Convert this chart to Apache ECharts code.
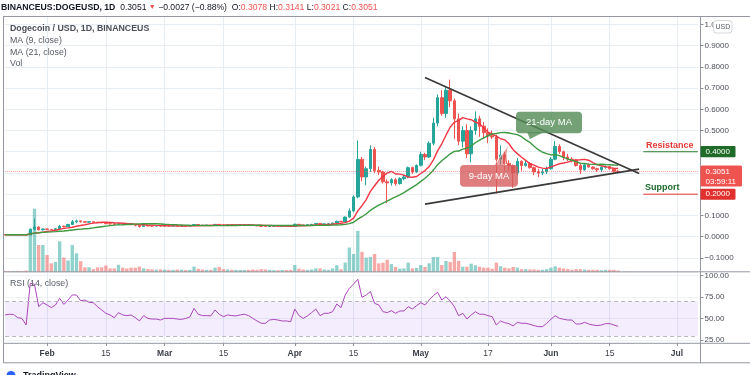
<!DOCTYPE html>
<html>
<head>
<meta charset="utf-8">
<script src="https://cdn.jsdelivr.net/npm/echarts/dist/echarts.min.js"></script>
<style>
html,body{margin:0;padding:0;background:#ffffff;overflow:hidden;}
#chart{width:750px;height:375px;}
</style>
</head>
<body>
<div id="chart"></div>
<script>
// ---------------- DATA ----------------
const firstDayUTC = Date.UTC(2021, 0, 22);   // first category (Jan 22, 2021)
const axisDayCount = 166;                      // axis runs to Jul 6, 2021
const tickDates  = ['2021-02-01','2021-02-15','2021-03-01','2021-03-15','2021-04-01','2021-04-15','2021-05-01','2021-05-17','2021-06-01','2021-06-15','2021-07-01'];
const tickLabels = ['Feb','15','Mar','15','Apr','15','May','17','Jun','15','Jul'];

const opens = [0.0087,0.0086,0.0085,0.0087,0.0086,0.0085,0.0075,0.035,0.045,0.032,
0.036,0.034,0.033,0.037,0.049,0.046,0.057,0.070,0.074,0.070,
0.068,0.070,0.068,0.066,0.065,0.061,0.060,0.058,0.061,0.059,
0.057,0.056,0.053,0.048,0.052,0.050,0.0495,0.051,0.050,0.051,
0.050,0.051,0.049,0.050,0.0495,0.051,0.057,0.054,0.053,0.0535,
0.0525,0.0575,0.055,0.054,0.055,0.054,0.0548,0.0552,0.0558,0.054,
0.052,0.0505,0.048,0.0475,0.0492,0.0495,0.049,0.0493,0.049,0.0485,
0.058,0.055,0.053,0.056,0.058,0.062,0.057,0.060,0.0602,0.064,
0.072,0.069,0.092,0.121,0.187,0.364,0.281,0.320,0.411,0.312,
0.304,0.258,0.253,0.268,0.250,0.273,0.281,0.325,0.304,0.336,
0.387,0.375,0.440,0.535,0.655,0.580,0.690,0.640,0.555,0.450,
0.500,0.390,0.500,0.555,0.520,0.490,0.475,0.470,0.365,0.385,
0.345,0.335,0.300,0.355,0.335,0.345,0.325,0.305,0.300,0.305,
0.320,0.365,0.425,0.400,0.375,0.365,0.360,0.335,0.315,0.338,
0.328,0.320,0.315,0.327,0.330,0.320,0.3078];

const highs = [0.0091,0.0088,0.0088,0.0091,0.0088,0.0087,0.038,0.085,0.048,0.038,
0.038,0.035,0.039,0.055,0.052,0.060,0.078,0.080,0.076,0.072,
0.072,0.071,0.069,0.068,0.066,0.063,0.061,0.063,0.062,0.061,
0.059,0.057,0.054,0.053,0.054,0.052,0.052,0.052,0.052,0.052,
0.052,0.052,0.051,0.051,0.052,0.058,0.058,0.055,0.0545,0.0545,
0.059,0.0585,0.056,0.056,0.056,0.056,0.056,0.0565,0.056,0.055,
0.053,0.0515,0.049,0.050,0.050,0.050,0.050,0.050,0.050,0.061,
0.059,0.056,0.057,0.059,0.064,0.063,0.061,0.061,0.066,0.075,
0.074,0.095,0.133,0.195,0.453,0.375,0.330,0.430,0.422,0.330,
0.310,0.270,0.275,0.275,0.280,0.290,0.330,0.330,0.340,0.400,
0.395,0.450,0.560,0.670,0.690,0.710,0.740,0.650,0.580,0.520,
0.530,0.520,0.590,0.570,0.540,0.510,0.500,0.480,0.430,0.400,
0.360,0.340,0.370,0.360,0.360,0.350,0.330,0.320,0.320,0.330,
0.375,0.450,0.435,0.405,0.390,0.375,0.365,0.345,0.345,0.345,
0.332,0.325,0.330,0.335,0.332,0.323,0.3141];

const lows = [0.0083,0.0084,0.0084,0.0085,0.0082,0.0072,0.0074,0.029,0.029,0.028,
0.032,0.031,0.032,0.036,0.044,0.045,0.055,0.063,0.066,0.064,
0.066,0.066,0.064,0.063,0.058,0.057,0.055,0.057,0.057,0.055,
0.054,0.048,0.042,0.047,0.049,0.048,0.049,0.047,0.049,0.049,
0.049,0.048,0.048,0.049,0.049,0.050,0.053,0.052,0.052,0.0515,
0.052,0.054,0.053,0.053,0.053,0.053,0.054,0.054,0.053,0.051,
0.050,0.047,0.046,0.047,0.048,0.048,0.048,0.048,0.048,0.048,
0.054,0.052,0.052,0.055,0.057,0.055,0.056,0.058,0.059,0.063,
0.067,0.067,0.090,0.115,0.180,0.260,0.242,0.305,0.300,0.290,
0.250,0.158,0.240,0.240,0.245,0.265,0.275,0.295,0.300,0.330,
0.360,0.370,0.430,0.520,0.570,0.560,0.610,0.460,0.430,0.420,
0.370,0.350,0.480,0.470,0.460,0.440,0.460,0.203,0.340,0.310,
0.310,0.230,0.290,0.310,0.330,0.320,0.290,0.280,0.290,0.295,
0.315,0.360,0.390,0.360,0.355,0.350,0.330,0.295,0.310,0.325,
0.315,0.305,0.305,0.320,0.315,0.300,0.3021];

const closes = [0.0086,0.0085,0.0087,0.0086,0.0085,0.0075,0.035,0.045,0.032,0.036,
0.034,0.033,0.037,0.049,0.046,0.057,0.070,0.074,0.070,0.068,
0.070,0.068,0.066,0.065,0.061,0.060,0.058,0.061,0.059,0.057,
0.056,0.053,0.048,0.052,0.050,0.0495,0.051,0.050,0.051,0.050,
0.051,0.049,0.050,0.0495,0.051,0.057,0.054,0.053,0.0535,0.0525,
0.0575,0.055,0.054,0.055,0.054,0.0548,0.0552,0.0558,0.054,0.052,
0.0505,0.048,0.0475,0.0492,0.0495,0.049,0.0493,0.049,0.0485,0.058,
0.055,0.053,0.056,0.058,0.062,0.057,0.060,0.0602,0.064,0.072,
0.069,0.092,0.121,0.187,0.364,0.281,0.320,0.411,0.312,0.304,
0.258,0.253,0.268,0.250,0.273,0.281,0.325,0.304,0.336,0.387,
0.375,0.440,0.535,0.655,0.580,0.690,0.640,0.555,0.450,0.500,
0.390,0.500,0.555,0.520,0.490,0.475,0.470,0.365,0.385,0.345,
0.335,0.300,0.355,0.335,0.345,0.325,0.305,0.300,0.305,0.320,
0.365,0.425,0.400,0.375,0.365,0.360,0.335,0.315,0.338,0.328,
0.320,0.315,0.327,0.330,0.320,0.3078,0.3051];

const volumes = [1.5,1.2,1.2,1.5,1.3,2.0,59,88,37.5,37.5,
23.6,12,14,42.6,20,16,37.5,26,15,6.5,
6.5,4,6.5,6.5,9,5,5,10,6,5,
6,6,7.4,5,4,3.7,3.2,3.7,3.2,3,
3,3.5,3.2,2.8,3,7.4,4.5,3.5,3,3,
6,7,4,3.5,3,3,2.8,2.8,3,3.5,
3,4,3.5,3,2.5,2.5,2.8,2.8,3,9.7,
4.6,3.5,3,3.5,5,5,3.5,3,5,9.3,
3.7,13,34,25,57,28,20,21,25,12,
13,17,11,7,4.6,5,13,5,5.5,9.7,
7,12,20.8,20.8,9.7,15.3,13.9,27.8,15.3,7.4,
7.4,11.6,9.3,7.4,6,6,4.5,13,8,6,
5,7,6,4,4,3.5,3.5,3,3,4,
6,8,6,5,4,3,4,4,3.5,3,
3,3,2.5,3,3,3,2];

const rsi14 = [54.4,55.2,55.0,51.2,50.4,42.7,91.2,90.0,64.0,68.6,
66.0,62.9,66.0,73.7,66.7,71.8,77.6,77.6,71.0,71.8,
69.1,68.6,64.0,60.2,56.3,54.4,51.2,57.1,54.4,53.6,
54.4,51.2,47.4,53.6,50.4,49.6,49.6,48.5,50.4,50.4,
50.4,49.6,49.2,50.4,52.0,62.1,55.2,53.6,53.6,53.3,
60.2,55.2,52.4,54.4,53.6,53.3,54.4,55.2,53.6,50.4,
47.4,44.7,44.7,48.5,49.2,48.5,47.4,47.4,46.6,61.3,
53.6,50.4,53.3,57.1,61.3,53.6,56.3,56.3,58.2,67.1,
62.9,77.6,85.3,90.3,95.8,74.9,77.6,81.5,67.9,66.0,
58.2,57.1,59.4,56.3,59.0,59.0,64.0,61.3,65.2,68.6,
66.0,71.8,76.8,80.7,71.8,75.6,70.6,64.0,53.5,56.3,
49.7,54.4,58.2,55.2,55.2,53.6,52.4,42.7,47.4,45.4,
44.3,41.6,45.8,44.7,44.7,43.5,42.0,40.8,40.8,44.7,
49.4,53.5,50.5,49.4,48.5,48.5,43.9,43.9,45.8,43.9,
42.7,42.0,42.7,44.3,44.3,42.7,41.2];

const trendUpper = [['2021-05-02', 0.750], ['2021-06-22', 0.297]];
const trendLower = [['2021-05-02', 0.153], ['2021-06-22', 0.318]];
const resistanceLevel = 0.4;
const supportLevel = 0.2;
const levelSpan = ['2021-06-23', '2021-07-06'];
const lastPrice = 0.3051;

// ---------------- BUILD ----------------
const dates = [];
for (let i = 0; i < axisDayCount; i++) {
  dates.push(new Date(firstDayUTC + i * 86400000).toISOString().slice(0, 10));
}
const candleData = opens.map((o, i) => [o, closes[i], lows[i], highs[i]]);
function movingAverage(src, n) {
  return src.map((_, i) => {
    const s = Math.max(0, i - n + 1);
    let t = 0;
    for (let k = s; k <= i; k++) t += src[k];
    return +(t / (i - s + 1)).toFixed(5);
  });
}
const ma9 = movingAverage(closes, 9);
const ma21 = movingAverage(closes, 21);
const UP = '#26a69a', DOWN = '#ef5350';
const volData = volumes.map((v, i) => ({
  value: v,
  itemStyle: { color: closes[i] >= opens[i] ? 'rgba(38,166,154,0.5)' : 'rgba(239,83,80,0.5)' }
}));

const FONT = '"Liberation Sans", Arial, sans-serif';
const GL = 5.1, GW = 692.8;
const isTick = (idx, val) => tickDates.indexOf(val) >= 0;
function xAx(gi, showLabels, showSplit) {
  return {
    type: 'category', gridIndex: gi, data: dates, boundaryGap: false,
    axisLine: { show: false },
    axisTick: { show: showLabels, interval: isTick, length: 3, lineStyle: { color: '#8f939b' } },
    axisLabel: {
      show: showLabels, interval: isTick, margin: 6, fontSize: 8.5, color: '#3b3f48', fontFamily: FONT,
      formatter: (val) => {
        const k = tickDates.indexOf(val);
        if (k < 0) return '';
        const t = tickLabels[k];
        return /^[A-Z]/.test(t) ? '{m|' + t + '}' : t;
      },
      rich: { m: { fontWeight: 'bold', fontSize: 8.5, color: '#3b3f48', fontFamily: FONT } }
    },
    splitLine: { show: showSplit, interval: isTick, lineStyle: { color: '#e6edf3', width: 1 } }
  };
}
const fmtPrice = v => (v < 0 ? '\u2212' : '') + Math.abs(v).toFixed(4);

const option = {
  animation: false,
  backgroundColor: '#ffffff',
  textStyle: { fontFamily: FONT },
  grid: [
    { left: GL, width: GW, top: 16, height: 256, outerBoundsMode: 'none' },
    { left: GL, width: GW, top: 200, height: 72, outerBoundsMode: 'none' },
    { left: GL, width: GW, top: 272, height: 71, outerBoundsMode: 'none' }
  ],
  xAxis: [xAx(0, false, true), xAx(1, false, false), xAx(2, true, true)],
  yAxis: [
    { type: 'value', gridIndex: 0, position: 'right', offset: 2.6, min: -0.167, max: 1.04,
      minInterval: 0.1, maxInterval: 0.1, splitNumber: 12,
      axisLine: { show: false },
      axisTick: { show: true, length: 3, lineStyle: { color: '#8f939b' } },
      axisLabel: { showMinLabel: false, showMaxLabel: false, margin: 4, fontSize: 8, color: '#4a4e57', fontFamily: FONT, formatter: fmtPrice },
      splitLine: { show: true, lineStyle: { color: '#e6edf3' } } },
    { type: 'value', gridIndex: 1, min: 0, max: 100, show: false },
    { type: 'value', gridIndex: 2, position: 'right', offset: 2.6, min: 21.8, max: 104.3,
      minInterval: 25, maxInterval: 25, splitNumber: 3,
      axisLine: { show: false },
      axisTick: { show: true, length: 3, lineStyle: { color: '#8f939b' } },
      axisLabel: { showMinLabel: false, showMaxLabel: false, margin: 4, fontSize: 8, color: '#4a4e57', fontFamily: FONT, formatter: v => v.toFixed(2) },
      splitLine: { show: true, lineStyle: { color: '#eef2f6' } } }
  ],
  series: [
    { type: 'bar', name: 'Vol', xAxisIndex: 1, yAxisIndex: 1, data: volData, barWidth: '80%', silent: true, z: 1 },
    { type: 'candlestick', name: 'DOGEUSD', xAxisIndex: 0, yAxisIndex: 0, data: candleData, barWidth: 3,
      itemStyle: { color: UP, color0: DOWN, borderColor: UP, borderColor0: DOWN, borderWidth: 1 },
      markLine: { silent: true, symbol: ['none', 'none'], label: { show: false },
        lineStyle: { type: 'dotted', color: 'rgba(239,83,80,0.55)', width: 1 },
        data: [{ yAxis: lastPrice }] }, z: 3 },
    { type: 'line', name: 'MA9', xAxisIndex: 0, yAxisIndex: 0, data: ma9, showSymbol: false, symbol: 'none',
      lineStyle: { color: '#f23645', width: 1.4 }, silent: true, z: 4 },
    { type: 'line', name: 'MA21', xAxisIndex: 0, yAxisIndex: 0, data: ma21, showSymbol: false, symbol: 'none',
      lineStyle: { color: '#3d9a40', width: 1.4 }, silent: true, z: 4 },
    { type: 'line', name: 'upper', xAxisIndex: 0, yAxisIndex: 0, data: trendUpper, symbol: 'none',
      lineStyle: { color: '#3a3a3a', width: 1.7 }, silent: true, z: 5 },
    { type: 'line', name: 'lower', xAxisIndex: 0, yAxisIndex: 0, data: trendLower, symbol: 'none',
      lineStyle: { color: '#3a3a3a', width: 1.7 }, silent: true, z: 5 },
    { type: 'line', name: 'resistance', xAxisIndex: 0, yAxisIndex: 0,
      data: [[levelSpan[0], resistanceLevel], [levelSpan[1], resistanceLevel]], symbol: 'none',
      lineStyle: { color: '#2e7d32', width: 1 }, silent: true, z: 5 },
    { type: 'line', name: 'support', xAxisIndex: 0, yAxisIndex: 0,
      data: [[levelSpan[0], supportLevel], [levelSpan[1], supportLevel]], symbol: 'none',
      lineStyle: { color: '#e53935', width: 1 }, silent: true, z: 5 },
    { type: 'line', name: 'RSI', xAxisIndex: 2, yAxisIndex: 2, data: rsi14, showSymbol: false, symbol: 'none',
      lineStyle: { color: '#ab47bc', width: 1 }, silent: true, z: 4,
      markArea: { silent: true, itemStyle: { color: 'rgba(149,76,233,0.10)' }, data: [[{ yAxis: 30 }, { yAxis: 70 }]] },
      markLine: { silent: true, symbol: ['none', 'none'], label: { show: false },
        lineStyle: { type: [4, 3], color: '#b9b9c2', width: 1 }, data: [{ yAxis: 70 }, { yAxis: 30 }] } }
  ]
};

const chart = echarts.init(document.getElementById('chart'), null, { renderer: 'canvas', width: 750, height: 375 });
chart.setOption(option);

// ---------------- ANNOTATIONS ----------------
const py = v => chart.convertToPixel({ yAxisIndex: 0 }, v);
const yR = py(resistanceLevel), yS = py(supportLevel), yC = py(lastPrice);
const G = [];
const FR = '#9598a1';
function hline(y, x1, x2) { G.push({ type: 'line', silent: true, z: 90, shape: { x1: x1, y1: y, x2: x2, y2: y }, style: { stroke: FR, lineWidth: 1 } }); }
function vline(x, y1, y2) { G.push({ type: 'line', silent: true, z: 90, shape: { x1: x, y1: y1, x2: x, y2: y2 }, style: { stroke: FR, lineWidth: 1 } }); }
hline(16.5, 3.5, 750); hline(271.8, 3.5, 750); hline(343.3, 3.5, 750); hline(362.8, 3.5, 750);
vline(3.5, 16, 363); vline(700.5, 16, 363);

function txt(x, y, text, font, fill, align, valign, z) {
  G.push({ type: 'text', silent: true, z: z || 110, x: x, y: y,
    style: { text: text, font: font, fill: fill, textAlign: align || 'left', align: align || 'left',
      textVerticalAlign: valign || 'middle', verticalAlign: valign || 'middle' } });
}
function rect(x, y, w, h, r, fill, stroke, z) {
  G.push({ type: 'rect', silent: true, z: z || 100, shape: { x: x, y: y, width: w, height: h, r: r },
    style: { fill: fill, stroke: stroke || null, lineWidth: stroke ? 1 : 0 } });
}

// header line, segments measured so they flow like one string
const mctx = document.createElement('canvas').getContext('2d');
const hdr = [
  ['BINANCEUS:DOGEUSD, 1D', 'bold 8.7px ' + FONT, '#131722'],
  ['  0.3051 ', '8.6px ' + FONT, '#131722'],
  ['\u25BC', '7px ' + FONT, '#ef5350'],
  [' \u22120.0027 (\u22120.88%)  ', '8.6px ' + FONT, '#131722'],
  ['O:', '8.6px ' + FONT, '#131722'], ['0.3078 ', '8.6px ' + FONT, '#ef5350'],
  ['H:', '8.6px ' + FONT, '#131722'], ['0.3141 ', '8.6px ' + FONT, '#ef5350'],
  ['L:', '8.6px ' + FONT, '#131722'], ['0.3021 ', '8.6px ' + FONT, '#ef5350'],
  ['C:', '8.6px ' + FONT, '#131722'], ['0.3051', '8.6px ' + FONT, '#ef5350']
];
let hx = 1;
hdr.forEach(s => { txt(hx, 7.5, s[0], s[1], s[2]); mctx.font = s[1]; hx += mctx.measureText(s[0]).width; });

// pane legends
txt(10, 29, 'Dogecoin / USD, 1D, BINANCEUS', '600 8.8px ' + FONT, '#4a4e57');
txt(10, 41, 'MA (9, close)', '8.8px ' + FONT, '#555a63');
txt(10, 52.7, 'MA (21, close)', '8.8px ' + FONT, '#555a63');
txt(10, 64, 'Vol', '8.8px ' + FONT, '#555a63');
txt(10, 283.5, 'RSI (14, close)', '8.8px ' + FONT, '#555a63');

// USD badge
rect(713.5, 20.5, 18.5, 12.5, 3, '#ffffff', '#d4d6db', 120);
txt(722.8, 27, 'USD', '7px ' + FONT, '#555a63', 'center', 'middle', 121);

// axis price tags
rect(700.5, yR - 5.8, 35, 11.2, 1, '#1f6b28', null, 120);
txt(705.5, yR, '0.4000', '8px ' + FONT, '#ffffff', 'left', 'middle', 121);
rect(700.5, yS - 5.3, 35, 11, 1, '#e0312f', null, 120);
txt(705.5, yS, '0.2000', '8px ' + FONT, '#ffffff', 'left', 'middle', 121);
rect(700.5, yC - 6.3, 41.5, 21, 1.5, '#ef5350', null, 120);
txt(705.5, yC + 0.3, '0.3051', '8px ' + FONT, '#ffffff', 'left', 'middle', 121);
txt(705.5, yC + 9.7, '03:59:11', '8px ' + FONT, '#ffffff', 'left', 'middle', 121);

// level captions
txt(646, yR - 6.5, 'Resistance', 'bold 9px ' + FONT, '#e53935');
txt(645, yS - 6.5, 'Support', 'bold 9px ' + FONT, '#1b6b2a');

// MA callouts
G.push({ type: 'polygon', silent: true, z: 100, shape: { points: [[527, 132], [544, 132], [530, 139]] },
  style: { fill: 'rgba(86,140,88,0.82)' } });
rect(516, 111.7, 66, 21.6, 4, 'rgba(86,140,88,0.82)', null, 100);
txt(549, 122.5, '21-day MA', '9.5px ' + FONT, '#ffffff', 'center', 'middle', 101);
G.push({ type: 'polygon', silent: true, z: 100, shape: { points: [[494, 165.5], [505, 165.5], [508.5, 145]] },
  style: { fill: 'rgba(214,90,90,0.55)', stroke: 'rgba(255,255,255,0.9)', lineWidth: 0.8 } });
rect(460, 165, 58, 21.7, 4, 'rgba(214,90,90,0.78)', null, 100);
txt(489, 176, '9-day MA', '9.5px ' + FONT, '#ffffff', 'center', 'middle', 101);

// TradingView footer (cut by the frame edge)
G.push({ type: 'circle', silent: true, z: 100, shape: { cx: 11, cy: 375.5, r: 4.5 }, style: { fill: '#2962ff' } });
txt(23, 371, 'TradingView', 'bold 9px ' + FONT, '#131722', 'left', 'top');

chart.setOption({ graphic: { elements: G } });
</script>
</body>
</html>
